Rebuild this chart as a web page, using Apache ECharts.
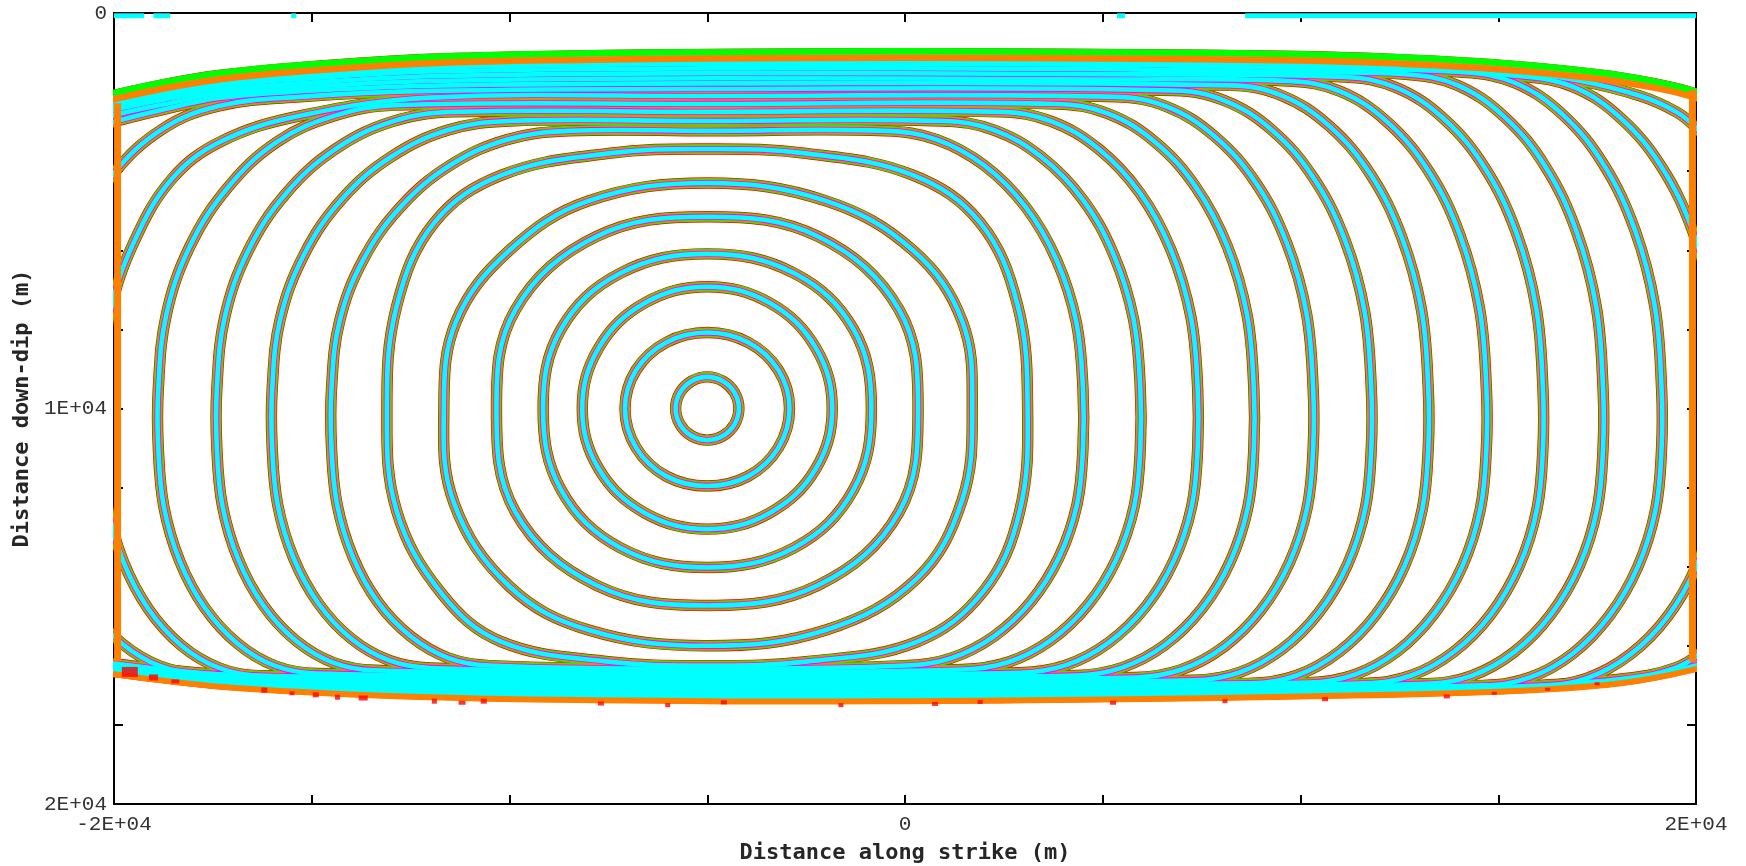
<!DOCTYPE html>
<html><head><meta charset="utf-8">
<script src="https://cdn.jsdelivr.net/npm/echarts/dist/echarts.min.js"></script>
<style>html,body{margin:0;padding:0;background:#fff}#c{width:1746px;height:866px}</style>
</head><body><div id="c"></div>
<script>
// Rupture-front contours (closed curves), coordinates in km; axis labels are shown in m
const xTickLabels = {'-20':'-2E+04','0':'0','20':'2E+04'};
const yTickLabels = {'0':'0','10':'1E+04','20':'2E+04'};

const ring01 = [[-4.2,10],[-4.31,10.4],[-4.6,10.69],[-5,10.8],[-5.4,10.69],[-5.69,10.4],[-5.8,10],[-5.69,9.6],[-5.4,9.31],[-5,9.2],[-4.6,9.31],[-4.31,9.6]];
const ring02 = [[-2.92,10],[-3.2,10.99],[-3.96,11.71],[-5,11.96],[-6.04,11.71],[-6.8,10.99],[-7.08,10],[-6.8,9.03],[-6.04,8.33],[-5,8.08],[-3.96,8.33],[-3.2,9.03]];
const ring03 = [[-1.84,10],[-2.26,11.53],[-3.42,12.64],[-5,13.05],[-6.58,12.64],[-7.74,11.53],[-8.16,10],[-7.74,8.46],[-6.58,7.33],[-5,6.92],[-3.42,7.33],[-2.26,8.46]];
const ring04 = [[-0.85,10],[-1.3,12.05],[-2.8,13.52],[-5,14.02],[-7.2,13.52],[-8.7,12.05],[-9.15,10],[-8.7,8.0],[-7.2,6.58],[-5,6.09],[-2.8,6.58],[-1.3,8.0]];
const ring05 = [[0.33,10],[-0.15,12.62],[-2.2,14.47],[-5,14.98],[-7.8,14.47],[-9.85,12.62],[-10.33,10],[-9.85,7.5],[-7.8,5.65],[-5,5.15],[-2.2,5.65],[-0.15,7.5]];
const ring06 = [[1.7,10],[1.45,12.3],[0.3,14.3],[-2.0,15.6],[-5,16.0],[-8.0,15.6],[-10.0,14.5],[-11.4,12.4],[-11.66,10],[-11.35,7.8],[-10.0,6.0],[-8.0,4.75],[-5,4.3],[-2.0,4.75],[0.2,6.0],[1.45,7.8]];
const ring07 = [[3.1,10],[2.9,12.6],[2.0,14.6],[0.3,15.9],[-2.5,16.4],[-5,16.5],[-7.5,16.4],[-10.2,15.9],[-11.7,14.7],[-12.85,12.6],[-13.1,10],[-12.85,7.4],[-11.9,5.3],[-10.2,4.1],[-7.5,3.55],[-5,3.44],[-2.5,3.55],[0.2,4.1],[1.9,5.3],[2.85,7.4]];
const ring08 = [[4.5,11],[4.35,12.42],[3.9,13.75],[3.18,14.89],[2.25,15.76],[1.17,16.31],[0.0,16.5],[-5,16.58],[-10.5,16.5],[-11.54,16.31],[-12.5,15.76],[-13.33,14.89],[-13.96,13.75],[-14.36,12.42],[-14.5,11],[-14.5,9.5],[-14.3,7.81],[-13.7,6.24],[-12.74,4.89],[-11.5,3.85],[-10.05,3.2],[-8.5,2.98],[-5,2.98],[-0.5,2.98],[0.8,3.2],[2.0,3.85],[3.04,4.89],[3.83,6.24],[4.33,7.81],[4.5,9.5]];
const ring09 = [[5.95,11],[5.8,12.45],[5.35,13.8],[4.63,14.96],[3.7,15.85],[2.62,16.41],[1.45,16.6],[-5,16.65],[-12.0,16.56],[-13.04,16.37],[-14.0,15.82],[-14.83,14.93],[-15.46,13.78],[-15.86,12.44],[-16,11],[-16,9.5],[-15.8,7.75],[-15.2,6.12],[-14.24,4.71],[-13.0,3.64],[-11.55,2.96],[-10,2.73],[-5,2.73],[0.95,2.73],[2.25,2.96],[3.45,3.64],[4.49,4.71],[5.28,6.12],[5.78,7.75],[5.95,9.5]];
const ring10 = [[7.4,11],[7.25,12.47],[6.8,13.84],[6.08,15.02],[5.15,15.92],[4.07,16.49],[2.9,16.68],[-5,16.72],[-13.4,16.62],[-14.44,16.43],[-15.4,15.87],[-16.23,14.97],[-16.86,13.81],[-17.26,12.45],[-17.4,11],[-17.4,9.5],[-17.2,7.69],[-16.6,6.0],[-15.64,4.55],[-14.4,3.44],[-12.95,2.74],[-11.4,2.5],[-5,2.5],[2.4,2.5],[3.7,2.74],[4.9,3.44],[5.94,4.55],[6.73,6.0],[7.23,7.69],[7.4,9.5]];
const ring11 = [[8.82,11],[8.67,12.49],[8.22,13.88],[7.5,15.07],[6.57,15.98],[5.49,16.55],[4.32,16.75],[-5,16.78],[-14.88,16.7],[-15.92,16.51],[-16.88,15.94],[-17.71,15.03],[-18.34,13.85],[-18.74,12.48],[-18.88,11],[-18.88,9.5],[-18.68,7.64],[-18.08,5.9],[-17.12,4.41],[-15.88,3.26],[-14.43,2.6],[-12.88,2.33],[-5,2.3],[3.82,2.3],[5.12,2.54],[6.32,3.26],[7.36,4.41],[8.15,5.9],[8.65,7.64],[8.82,9.5]];
const ring12 = [[10.32,11],[10.17,12.5],[9.72,13.9],[9.0,15.1],[8.07,16.02],[6.99,16.6],[5.82,16.8],[-5,16.84],[-16.3,16.76],[-17.34,16.56],[-18.3,15.99],[-19.13,15.07],[-19.76,13.88],[-20.16,12.49],[-20.3,11],[-20.3,9.5],[-20.1,7.58],[-19.5,5.8],[-18.54,4.2],[-17.3,3.25],[-15.3,2.6],[-12,2.14],[-5,2.1],[5.32,2.12],[6.62,2.37],[7.82,3.11],[8.86,4.28],[9.65,5.81],[10.15,7.59],[10.32,9.5]];
const ring13 = [[11.79,11],[11.64,12.52],[11.19,13.94],[10.47,15.15],[9.54,16.08],[8.46,16.67],[7.29,16.87],[-5,16.9],[-12,16.84],[-17.8,16.7],[-18.84,16.51],[-19.8,15.94],[-20.63,15.03],[-21.26,13.85],[-21.66,12.48],[-21.8,11],[-21.8,9.5],[-21.6,7.54],[-21.0,5.71],[-20.04,4.1],[-18.8,2.95],[-17.35,2.35],[-15.3,2.12],[-12,1.97],[-5,1.92],[6.79,1.96],[8.09,2.22],[9.29,2.97],[10.33,4.17],[11.12,5.73],[11.62,7.55],[11.79,9.5]];
const ring14 = [[13.23,11],[13.08,12.54],[12.63,13.98],[11.91,15.21],[10.98,16.15],[9.9,16.75],[8.73,16.95],[-5,16.96],[-12,16.9],[-17,16.75],[-20,16.45],[-21.5,16.2],[-23,10],[-21.5,3.2],[-20,2.75],[-18.8,2.45],[-17.35,2.15],[-15.3,1.98],[-12,1.84],[-5,1.78],[8.23,1.83],[9.53,2.09],[10.73,2.86],[11.77,4.08],[12.56,5.67],[13.06,7.51],[13.23,9.5]];
const ring15 = [[14.7,11],[14.55,12.53],[14.1,13.97],[13.38,15.19],[12.45,16.14],[11.37,16.73],[10.2,16.93],[-5,17.02],[-12,16.95],[-17,16.8],[-20,16.48],[-21.5,16.25],[-23,10],[-21.5,3.0],[-20,2.58],[-18.8,2.32],[-17.35,2.05],[-15.3,1.88],[-12,1.72],[-5,1.65],[5,1.68],[9.7,1.72],[11.0,1.98],[12.2,2.76],[13.24,4.0],[14.03,5.61],[14.53,7.49],[14.7,9.5]];
const ring16 = [[16.13,11],[15.98,12.54],[15.53,13.98],[14.81,15.21],[13.88,16.15],[12.8,16.75],[11.63,16.95],[5,17.02],[-5,17.07],[-12,17.0],[-17,16.84],[-20,16.52],[-21.5,16.3],[-23,10],[-21.5,2.85],[-20,2.45],[-18.8,2.2],[-17.35,1.95],[-15.3,1.78],[-12,1.6],[-5,1.52],[5,1.55],[11.13,1.62],[12.43,1.89],[13.63,2.68],[14.67,3.93],[15.46,5.56],[15.96,7.46],[16.13,9.5]];
const ring17 = [[17.65,11],[17.5,12.54],[17.05,13.98],[16.33,15.21],[15.4,16.16],[14.32,16.76],[13.15,16.96],[5,17.08],[-5,17.12],[-12,17.05],[-17,16.88],[-20,16.55],[-21.5,16.33],[-23,10],[-21.5,2.75],[-20,2.35],[-18.8,2.1],[-17.35,1.85],[-15.3,1.67],[-12,1.48],[-5,1.4],[5,1.42],[10,1.5],[12.65,1.55],[13.95,1.82],[15.15,2.62],[16.19,3.88],[16.98,5.53],[17.48,7.44],[17.65,9.5]];
const ring18 = [[19.13,11],[18.98,12.55],[18.53,14.0],[17.81,15.24],[16.88,16.2],[15.8,16.8],[14.63,17.0],[5,17.12],[-5,17.17],[-12,17.09],[-17,16.91],[-20,16.58],[-21.5,16.36],[-23,10],[-21.5,2.65],[-20,2.26],[-18.8,2.0],[-17.35,1.76],[-15.3,1.57],[-12,1.38],[-5,1.29],[5,1.31],[10,1.4],[14.13,1.5],[15.43,1.77],[16.63,2.57],[17.67,3.84],[18.46,5.5],[18.96,7.43],[19.13,9.5]];
const ring19 = [[20.6,11],[20.45,12.56],[20.0,14.01],[19.28,15.26],[18.35,16.21],[17.27,16.81],[16.1,17.02],[10,17.12],[5,17.17],[-5,17.22],[-12,17.13],[-17,16.94],[-20,16.61],[-21.5,16.4],[-23,10],[-21.5,2.55],[-20,2.18],[-18.8,1.92],[-17.35,1.68],[-15.3,1.48],[-12,1.3],[-5,1.2],[5,1.22],[10,1.3],[12.5,1.4],[15.6,1.6],[16.9,1.87],[18.1,2.66],[19.14,3.91],[19.93,5.55],[20.43,7.45],[20.6,9.5]];
const ring20 = [[22,10],[21.7,13.5],[21,15],[20.3,16.0],[19.5,16.55],[18,16.85],[15,17.05],[10,17.17],[5,17.23],[-5,17.27],[-12,17.18],[-17,16.97],[-20,16.63],[-21.5,16.43],[-23,10],[-21.5,2.5],[-20,2.12],[-18.8,1.86],[-17.35,1.62],[-15.3,1.42],[-12,1.23],[-5,1.12],[5,1.13],[10,1.19],[12.5,1.27],[15,1.42],[17,1.7],[18.6,2.1],[19.5,2.5],[20,2.9],[20.6,3.6],[21.5,6]];
const ring21 = [[23,10],[22.5,14],[21,16.1],[20,16.5],[18,16.88],[15,17.08],[10,17.2],[5,17.28],[0,17.32],[-5,17.32],[-12,17.22],[-17,16.98],[-20,16.65],[-21.5,16.45],[-23,10],[-21.5,2.4],[-20,2.08],[-18.8,1.82],[-17.35,1.58],[-15.3,1.38],[-12,1.17],[-8,1.08],[-5,1.05],[0,1.03],[5,1.05],[10,1.1],[12.5,1.18],[15,1.32],[17.5,1.56],[19,1.8],[20,2.05],[21,2.5],[22.5,6]];

const contours = [ring01,ring02,ring03,ring04,ring05,ring06,ring07,ring08,ring09,ring10,ring11,
  ring12,ring13,ring14,ring15,ring16,ring17,ring18,ring19,ring20,ring21];

// outer strips of the shallow and deep bands (open lines)
const topGreenStrip = [[-21,2.25],[-20,2.02],[-18.8,1.76],[-17.35,1.52],[-15.3,1.32],[-12,1.11],[-8,1.02],[-5,0.99],[0,0.97],[5,0.99],[10,1.04],[12.5,1.12],[15,1.26],[17.5,1.5],[19,1.74],[20,1.99],[21,2.4]];
const topOrangeStrip = [[-21,2.41],[-20,2.18],[-18.8,1.92],[-17.35,1.68],[-15.3,1.48],[-12,1.27],[-8,1.18],[-5,1.15],[0,1.13],[5,1.15],[10,1.2],[12.5,1.28],[15,1.42],[17.5,1.66],[19,1.9],[20,2.15],[21,2.56]];
const bottomOrangeStrip = [[-21,16.54],[-20,16.72],[-17,17.06],[-12,17.3],[-5,17.4],[0,17.4],[5,17.36],[10,17.28],[15,17.16],[18,16.96],[20,16.59],[21,16.24]];
const redSpecks = [[-19.6,16.66,16,10],[-19.0,16.8,9,6],[-18.45,16.9,8,4],[-16.2,17.12,6,5],[-15.5,17.2,5,4],[-14.9,17.24,6,5],[-14.35,17.3,5,5],[-13.7,17.32,9,5],[-11.9,17.4,5,5],[-11.2,17.44,7,4],[-10.65,17.4,6,5],[-7.69,17.46,6,4],[-6.0,17.5,5,4],[-4.58,17.43,6,4],[-1.62,17.5,5,4],[0.76,17.47,6,4],[1.9,17.42,5,4],[5.26,17.44,6,4],[8.09,17.4,5,4],[10.62,17.35,6,4],[13.7,17.28,6,4],[14.9,17.2,5,3],[16.25,17.1,5,3],[17.5,16.96,5,3]];

const leftEdge = [[-19.91,2.28],[-19.91,16.4]];
const rightEdge = [[19.91,1.95],[19.91,16.4]];
const surfaceSegments = [[[-20,0.07],[-19.24,0.07]],[[-19.0,0.07],[-18.58,0.07]],[[-15.52,0.07],[-15.4,0.07]],[[5.36,0.07],[5.56,0.07]],[[8.6,0.07],[20,0.07]]];

const models = [
  {c:'#ff0000', w:11.4},
  {c:'#00ff00', w:10.0},
  {c:'#ff8000', w:8.2},
  {c:'#ff00ff', w:6.3},
  {c:'#00ffff', w:4.6}
];

function curveSeries(list, closed, color, width){
  return {
    type:'custom', coordinateSystem:'cartesian2d', clip:true, silent:true,
    lineStyle:{width:0.01},
    data: list.map(function(c, i){ return [-5, 10, i]; }),
    renderItem: function(params, api){
      const pts = list[params.dataIndex].map(function(p){ return api.coord(p); });
      return {type: closed ? 'polygon' : 'polyline', silent:true,
        shape:{points:pts, smooth:0.38},
        style:{fill:'none', stroke:color, lineWidth:width, lineJoin:'round', lineCap:'butt'}};
    }
  };
}

const series = [];
models.forEach(function(m){
  series.push(curveSeries(contours, true, m.c, m.w));
  if (m.c === '#ff0000') {
    series.push({type:'scatter', data:redSpecks, symbol:'rect', silent:true, clip:true,
      symbolSize:function(v){ return [v[2], v[3]]; }, itemStyle:{color:'#ff0000'}});
  }
  if (m.c === '#ff8000') {
    [leftEdge, rightEdge].forEach(function(e){
      series.push({type:'line', data:e, symbol:'none', silent:true,
        lineStyle:{color:'#ff8000', width:7, cap:'butt'}, clip:true});
    });
  }
});
series.push(curveSeries([topGreenStrip], false, '#00ff00', 6.5));
series.push(curveSeries([topOrangeStrip], false, '#ff8000', 6.5));
series.push(curveSeries([bottomOrangeStrip], false, '#ff8000', 6));
surfaceSegments.forEach(function(s){
  series.push({type:'line', data:s, symbol:'none', silent:true, clip:false, z:5,
    lineStyle:{color:'#00ffff', width:5, cap:'butt'}});
});

const labelFont = {fontFamily:'Liberation Mono', fontSize:21, color:'#333'};
const nameFont = {fontFamily:'DejaVu Sans Mono', fontWeight:'bold', fontSize:22, color:'#262626'};
const axisLine = {show:true, onZero:false, lineStyle:{color:'#000', width:2}};
const tick = {show:true, inside:true, length:9, lineStyle:{color:'#000', width:2}};

const chart = echarts.init(document.getElementById('c'), null, {renderer:'canvas'});
chart.setOption({
  animation:false,
  backgroundColor:'#fff',
  grid:{left:114, right:50, top:13, bottom:62, containLabel:false, outerBoundsMode:'none'},
  xAxis:[
    {type:'value', min:-20, max:20, interval:5, position:'bottom',
     name:'Distance along strike (m)', nameLocation:'middle', nameGap:38, nameTextStyle:nameFont,
     axisLine:axisLine, axisTick:tick, splitLine:{show:false},
     axisLabel:Object.assign({margin:10, formatter:function(v){return xTickLabels[String(v)]||'';}}, labelFont)},
    {type:'value', min:-20, max:20, interval:5, position:'top',
     axisLine:axisLine, axisTick:tick, splitLine:{show:false}, axisLabel:{show:false}}
  ],
  yAxis:[
    {type:'value', min:0, max:20, interval:2, inverse:true, position:'left',
     name:'Distance down-dip (m)', nameLocation:'middle', nameGap:81, nameRotate:90, nameTextStyle:nameFont,
     axisLine:axisLine, axisTick:tick, splitLine:{show:false},
     axisLabel:Object.assign({margin:7, formatter:function(v){return yTickLabels[String(v)]||'';}}, labelFont)},
    {type:'value', min:0, max:20, interval:2, inverse:true, position:'right',
     axisLine:axisLine, axisTick:tick, splitLine:{show:false}, axisLabel:{show:false}}
  ],
  series:series
});
</script></body></html>
